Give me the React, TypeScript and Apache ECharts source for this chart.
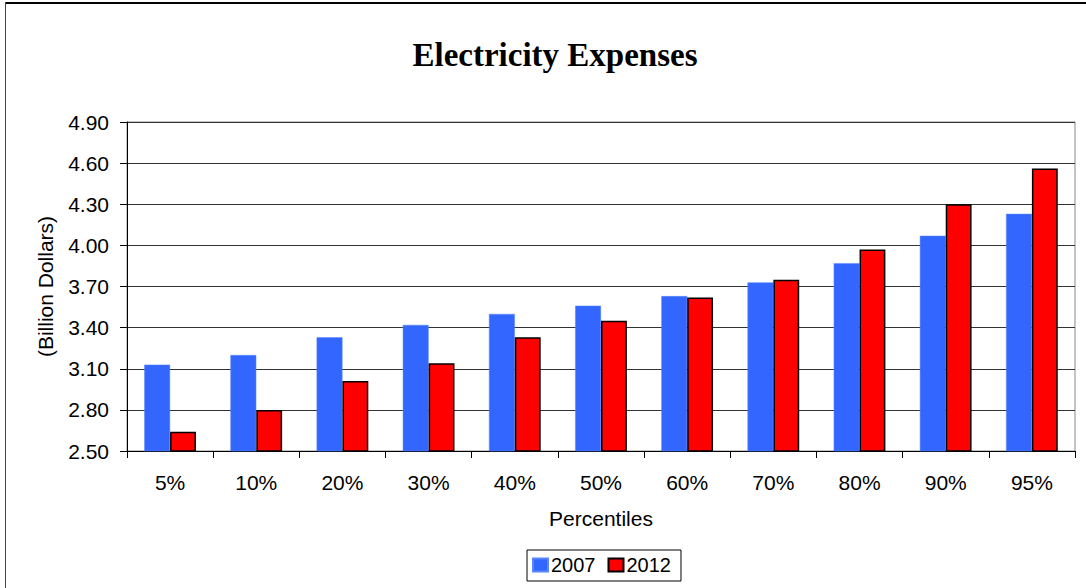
import React, { useEffect, useRef } from "react";
import * as echarts from "echarts";

const categories = ["5%", "10%", "20%", "30%", "40%", "50%", "60%", "70%", "80%", "90%", "95%"];
const values2007 = [3.13, 3.2, 3.33, 3.42, 3.5, 3.56, 3.63, 3.73, 3.87, 4.07, 4.23];
const values2012 = [2.64, 2.8, 3.01, 3.14, 3.33, 3.45, 3.62, 3.75, 3.97, 4.3, 4.56];
const seriesNames = ["2007", "2012"];
const yMin = 2.5;
const yMax = 4.9;
const yStep = 0.3;

const SANS = '"Liberation Sans", Arial, sans-serif';
const SERIF = '"Liberation Serif", "Times New Roman", serif';

export default function App() {
  const ref = useRef<HTMLDivElement>(null);
  useEffect(() => {
    if (!ref.current) return;
    const chart = echarts.init(ref.current, undefined, { renderer: "svg" });
    chart.setOption({
      animation: false,
      backgroundColor: "#ffffff",
      title: {
        text: "Electricity Expenses",
        left: 550,
        top: 33,
        textAlign: "center",
        textStyle: { fontFamily: SERIF, fontSize: 33, fontWeight: "bold", color: "#000" },
      },
      graphic: [
        { type: "line", shape: { x1: 5, y1: 3, x2: 1086, y2: 3 }, style: { stroke: "#000", lineWidth: 2 } },
        { type: "line", shape: { x1: 5.5, y1: 2, x2: 5.5, y2: 588 }, style: { stroke: "#444", lineWidth: 1 } },
      ],
      legend: {
        data: seriesNames,
        left: 527,
        top: 550,
        orient: "horizontal",
        icon: "rect",
        itemWidth: 15,
        itemHeight: 13,
        itemGap: 12,
        padding: [5, 10, 6, 5],
        borderColor: "#000",
        borderWidth: 1,
        textStyle: { fontFamily: SANS, fontSize: 20, color: "#000", padding: [0, 0, 0, -2] },
      },
      grid: {
        left: 127,
        right: 11,
        top: 122,
        bottom: 137,
        show: true,
        borderColor: "#888",
        borderWidth: 1,
      },
      xAxis: {
        type: "category",
        data: categories,
        name: "Percentiles",
        nameLocation: "middle",
        nameGap: 57,
        nameTextStyle: { fontFamily: SANS, fontSize: 21, color: "#000" },
        axisLine: { lineStyle: { color: "#000", width: 1 } },
        axisTick: { show: true, length: 7, lineStyle: { color: "#000" } },
        axisLabel: { fontFamily: SANS, fontSize: 21, color: "#000", margin: 21 },
      },
      yAxis: {
        type: "value",
        min: yMin,
        max: yMax,
        interval: yStep,
        name: "(Billion Dollars)",
        nameLocation: "middle",
        nameGap: 71,
        nameTextStyle: { fontFamily: SANS, fontSize: 21, color: "#000" },
        axisLine: { show: true, lineStyle: { color: "#000", width: 1 } },
        axisTick: { show: true, length: 7, lineStyle: { color: "#000" } },
        axisLabel: {
          fontFamily: SANS,
          fontSize: 21,
          color: "#000",
          margin: 18,
          formatter: (v: number) => v.toFixed(2),
        },
        splitLine: { show: true, lineStyle: { color: "#333", width: 1 } },
      },
      series: [
        {
          name: seriesNames[0],
          type: "bar",
          data: values2007,
          barGap: "0%",
          barCategoryGap: "40%",
          itemStyle: { color: "#3366FF", borderColor: "#5b86ff", borderWidth: 0.5 },
        },
        {
          name: seriesNames[1],
          type: "bar",
          data: values2012,
          barGap: "0%",
          barCategoryGap: "40%",
          itemStyle: { color: "#FF0000", borderColor: "#000", borderWidth: 1.5 },
        },
      ],
    });
    return () => chart.dispose();
  }, []);
  return (
    <div
      ref={ref}
      style={{ position: "fixed", left: 0, top: 0, width: 1086, height: 588, background: "#fff" }}
    />
  );
}
